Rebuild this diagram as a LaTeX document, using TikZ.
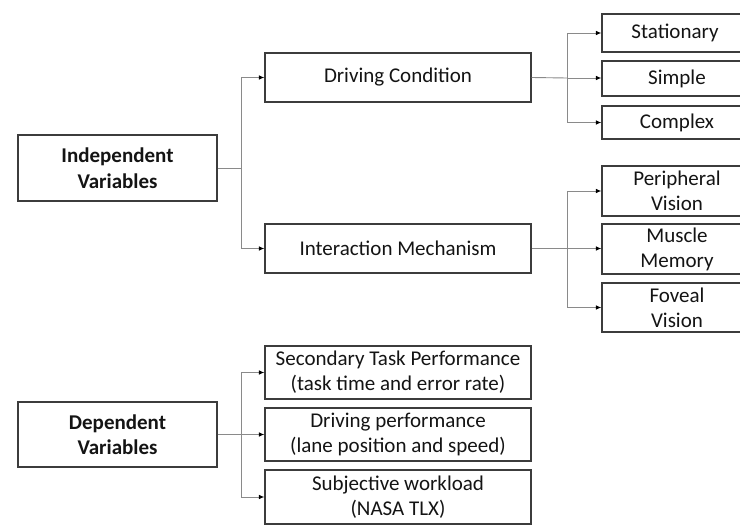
\documentclass[tikz,border=0pt]{standalone}
\usepackage{fontspec}
\setmainfont{Carlito}
\usetikzlibrary{arrows.meta,calc}
\definecolor{boxgray}{HTML}{3C3C3C}
\definecolor{linegray}{HTML}{8A8A8A}
\definecolor{txt}{HTML}{141414}
\begin{document}
\begin{tikzpicture}[x=1pt,y=-1pt,
  box/.style={draw=boxgray, line width=1.1pt, fill=white, align=center, inner sep=0pt,
    text=txt, font=\fontsize{21}{25}\selectfont},
  bigbox/.style={box, font=\fontsize{21}{25.5}\selectfont\bfseries},
  conn/.style={draw=linegray, line width=0.9pt},
  arr/.style={conn, -{Latex[length=5.5pt,width=4.5pt,color=black]}}]
\useasboundingbox[fill=white] (0,0) rectangle (740,527);

% left column
\node[bigbox, minimum width=199pt, minimum height=66pt] (iv) at (117.5,168) {Independent\\Variables};
\node[bigbox, minimum width=199pt, minimum height=65pt] (dv) at (117.5,434.5) {Dependent\\Variables};

% middle column
\node[box, minimum width=266pt, minimum height=49pt] (dc) at (398,77.5) {Driving Condition};
\node[box, minimum width=266pt, minimum height=49pt] (im) at (398,248.5) {Interaction Mechanism};
\node[box, minimum width=266pt, minimum height=53pt] (stp) at (398,372.5) {Secondary Task Performance\\(task time and error rate)};
\node[box, minimum width=266pt, minimum height=53pt] (dp) at (398,434.5) {Driving performance\\(lane position and speed)};
\node[box, minimum width=266pt, minimum height=54pt] (sw) at (398,497) {Subjective workload\\(NASA TLX)};

% right column
\node[box, minimum width=150pt, minimum height=38pt] (st) at (677,33) {\hspace*{-2pt}Stationary\hspace*{2pt}};
\node[box, minimum width=150pt, minimum height=35pt] (si) at (677,78.5) {Simple};
\node[box, minimum width=150pt, minimum height=33pt] (co) at (677,122.5) {Complex};
\node[box, minimum width=150pt, minimum height=50pt] (pv) at (677,191) {Peripheral\\Vision};
\node[box, minimum width=150pt, minimum height=50pt] (mm) at (677,249) {Muscle\\Memory};
\node[box, minimum width=150pt, minimum height=49pt] (fv) at (677,307.5) {Foveal\\Vision};

% connectors: independent variables
\coordinate (j1) at (241,168);
\draw[conn] (iv.east) -- (j1);
\draw[arr] (j1) |- (dc.west);
\draw[arr] (j1) |- (im.west);

% driving condition
\coordinate (j2) at (567,78);
\draw[conn] (dc.east) -- (j2);
\draw[arr] (j2) |- (st.west);
\draw[arr] (j2) -- (si.west |- j2);
\draw[arr] (j2) |- (co.west);

% interaction mechanism
\coordinate (j3) at (567,248.5);
\draw[conn] (im.east) -- (j3);
\draw[arr] (j3) |- (pv.west);
\draw[arr] (j3) -- (mm.west |- j3);
\draw[arr] (j3) |- (fv.west);

% dependent variables
\coordinate (j4) at (241,434.5);
\draw[conn] (dv.east) -- (j4);
\draw[arr] (j4) |- (stp.west);
\draw[arr] (j4) -- (dp.west);
\draw[arr] (j4) |- (sw.west);
\end{tikzpicture}
\end{document}
